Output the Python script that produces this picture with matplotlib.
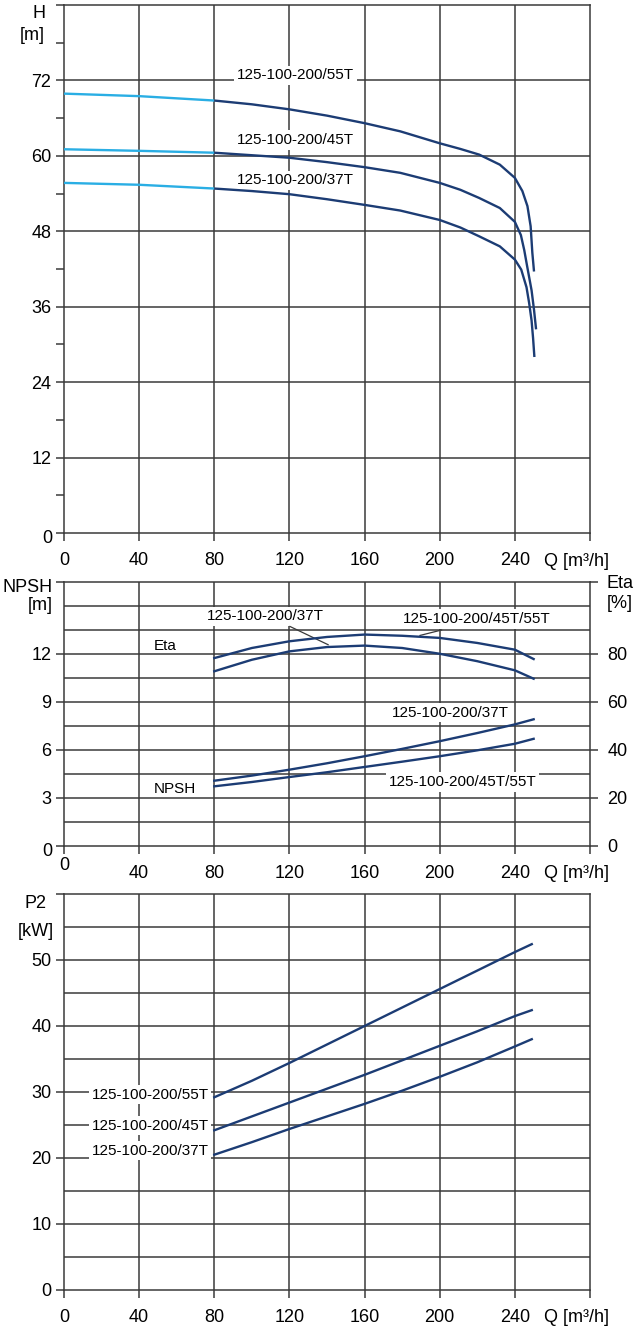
import numpy as np
import matplotlib
matplotlib.use("Agg")
import matplotlib.pyplot as plt
from matplotlib.transforms import ScaledTranslation

plt.rcParams['font.family'] = ['Liberation Sans', 'DejaVu Sans']

# Q-H curves
q55 = [0, 40, 80, 100, 120, 140, 160, 179, 200, 211, 221, 232, 240, 244, 246.7, 248.4, 249.3, 250.2]
h55 = [69.9, 69.5, 68.8, 68.2, 67.4, 66.4, 65.2, 63.9, 62.0, 61.1, 60.2, 58.6, 56.5, 54.4, 52.0, 48.8, 44.6, 41.6]
q45 = [0, 40, 80, 100, 120, 140, 160, 179, 200, 211, 221, 232, 240, 243.2, 245, 246.5, 248.9, 250.2, 251.3]
h45 = [61.05, 60.8, 60.5, 60.1, 59.7, 59.0, 58.2, 57.3, 55.7, 54.6, 53.3, 51.7, 49.5, 47.4, 45.0, 42.5, 38.6, 35.5, 32.4]
q37 = [0, 40, 80, 100, 120, 140, 160, 179, 200, 211, 221, 232, 240, 243.4, 246.2, 247.6, 248.9, 249.7, 250.4]
h37 = [55.7, 55.4, 54.8, 54.4, 53.9, 53.1, 52.2, 51.3, 49.8, 48.6, 47.2, 45.6, 43.5, 41.9, 39.1, 36.6, 33.8, 31.0, 28.0]

# Eta [%] and NPSH [m]
q_mid = [80, 100, 120, 140, 160, 180, 200, 220, 240, 250]
eta_45_55 = [78.3, 82.5, 85.3, 87.1, 88.1, 87.6, 86.7, 84.6, 81.8, 77.9]
eta_37 = [72.8, 77.6, 81.1, 82.9, 83.5, 82.5, 80.1, 77.0, 73.2, 69.7]
npsh_37 = [4.08, 4.4, 4.77, 5.17, 5.61, 6.07, 6.55, 7.06, 7.60, 7.92]
npsh_45_55 = [3.73, 4.0, 4.31, 4.61, 4.94, 5.27, 5.61, 5.98, 6.39, 6.70]

# P2 [kW]
q_p = [80, 100, 120, 140, 160, 180, 200, 220, 240, 249]
p55 = [29.2, 31.7, 34.4, 37.2, 40.0, 42.8, 45.6, 48.4, 51.2, 52.4]
p45 = [24.2, 26.3, 28.4, 30.5, 32.6, 34.8, 37.0, 39.2, 41.5, 42.4]
p37 = [20.5, 22.4, 24.4, 26.3, 28.2, 30.2, 32.3, 34.5, 36.9, 38.0]

names = ['125-100-200/55T', '125-100-200/45T', '125-100-200/37T']
q_ticks = ['0', '40', '80', '120', '160', '200', '240', '']

navy = '#1c3c74'
light = '#2aaee4'
gcol = '#3a3a3a'
W, Hpx = 640, 1334

fig = plt.figure(figsize=(6.4, 13.34), dpi=100)

def box(x0, y0, x1, y1):
    return [x0 / W, 1 - y1 / Hpx, (x1 - x0) / W, (y1 - y0) / Hpx]

ax1 = fig.add_axes(box(64, 5, 590, 533))
ax2 = fig.add_axes(box(64, 582, 590, 846))
ax3 = fig.add_axes(box(64, 894, 590, 1290))

white = dict(facecolor='white', edgecolor='none', pad=2)

def style(ax, ymax, grid_step, yticks, ylabels, xlabels):
    ax.set_xlim(0, 280)
    ax.set_ylim(0, ymax)
    for s in ax.spines.values():
        s.set_color(gcol)
        s.set_linewidth(1.1)
    for x in range(40, 280, 40):
        ax.axvline(x, color=gcol, lw=1.1, zorder=1)
    for y in np.arange(grid_step, ymax - 0.01, grid_step):
        ax.axhline(y, color=gcol, lw=1.1, zorder=1)
    ax.set_xticks(range(0, 281, 40))
    ax.set_xticklabels(xlabels)
    ax.set_yticks(yticks)
    ax.set_yticklabels(ylabels)
    ax.tick_params(axis='x', direction='out', length=6, width=1.1, color=gcol, pad=8, labelsize=13)
    ax.tick_params(axis='y', direction='out', length=6, width=1.1, color=gcol, pad=3, labelsize=13)
    # Q label sits in the tick-label row, right of 240
    ax.text(273, 0, 'Q [m³/h]', fontsize=13, ha='center', va='center', clip_on=False,
            transform=ax.transData + ScaledTranslation(0, -0.28, fig.dpi_scale_trans))

# ---------- top panel: H ----------
style(ax1, 84, 12, list(range(0, 85, 6)),
      ['' if (v % 12 or v == 0 or v == 84) else str(v) for v in range(0, 85, 6)], q_ticks)
for q, h in [(q55, h55), (q45, h45), (q37, h37)]:
    q = np.array(q)
    h = np.array(h)
    ax1.plot(q[q <= 80], h[q <= 80], color=light, lw=1.7, zorder=4, solid_capstyle='butt')
    ax1.plot(q[q >= 80], h[q >= 80], color=navy, lw=1.7, zorder=4, solid_capstyle='butt')
for name, y in zip(names, [72.8, 62.5, 56.1]):
    ax1.text(92, y, name, fontsize=11, ha='left', va='center', zorder=3, bbox=white)

# ---------- middle panel: NPSH / Eta ----------
style(ax2, 16.5, 1.5, [0, 3, 6, 9, 12, 16.5], ['', '3', '6', '9', '12', ''],
      [''] + q_ticks[1:])
ax2.plot(q_mid, npsh_37, color=navy, lw=1.7, zorder=4)
ax2.plot(q_mid, npsh_45_55, color=navy, lw=1.7, zorder=4)
ax2b = ax2.twinx()
ax2b.set_ylim(0, 110)
ax2b.set_yticks([0, 20, 40, 60, 80, 110])
ax2b.set_yticklabels(['0', '20', '40', '60', '80', ''])
ax2b.tick_params(axis='y', direction='out', length=6, width=1.1, color=gcol, pad=6.5, labelsize=13)
for s in ax2b.spines.values():
    s.set_visible(False)
ax2b.plot(q_mid, eta_45_55, color=navy, lw=1.7, zorder=4)
ax2b.plot(q_mid, eta_37, color=navy, lw=1.7, zorder=4)

ax2.text(48, 12.48, 'Eta', fontsize=11, ha='left', va='center')
ax2.text(48, 3.56, 'NPSH', fontsize=11, ha='left', va='center')
ax2.text(76.3, 14.35, '125-100-200/37T', fontsize=11, ha='left', va='center', zorder=3, bbox=white)
ax2.text(180.6, 14.2, '125-100-200/45T/55T', fontsize=11, ha='left', va='center', zorder=3, bbox=white)
ax2.plot([120.3, 140.6], [13.72, 12.58], color=gcol, lw=0.9, zorder=3)
ax2.plot([201, 189.5], [13.5, 13.16], color=gcol, lw=0.9, zorder=3)
ax2.text(174.4, 8.33, '125-100-200/37T', fontsize=11, ha='left', va='center', zorder=3, bbox=white)
ax2.text(172.8, 4.0, '125-100-200/45T/55T', fontsize=11, ha='left', va='center', zorder=3, bbox=white)
# the x "0" of this panel sits a little higher
ax2.annotate('0', xy=(0, 0), xycoords='data', xytext=(0, -13.7), textcoords='offset points',
             ha='center', va='center', fontsize=13, annotation_clip=False)

# ---------- bottom panel: P2 ----------
style(ax3, 60, 5, [0, 10, 20, 30, 40, 50, 60], ['0', '10', '20', '30', '40', '50', ''], q_ticks)
for p in [p55, p45, p37]:
    ax3.plot(q_p, p, color=navy, lw=1.7, zorder=4)
for name, y in zip(names, [29.6, 24.9, 21.1]):
    ax3.text(77, y, name, fontsize=11, ha='right', va='center', zorder=3, bbox=white)

# y "0" labels of the top two panels sit a little lower
for ax in [ax1, ax2]:
    ax.annotate('0', xy=(0, 0), xycoords='data', xytext=(-8.6, -4.3),
                textcoords='offset points', ha='right', va='center', fontsize=13,
                annotation_clip=False)

# axis titles
def ftext(x, y, s, ha):
    fig.text(x / W, 1 - y / Hpx, s, fontsize=13, ha=ha, va='center')

ftext(45, 13, 'H', 'right')
ftext(45, 35, '[m]', 'right')
ftext(53, 587, 'NPSH', 'right')
ftext(53, 605, '[m]', 'right')
ftext(607, 583, 'Eta', 'left')
ftext(607, 603, '[%]', 'left')
ftext(36, 903, 'P2', 'center')
ftext(36, 932, '[kW]', 'center')

fig.savefig('out.png', dpi=100)
